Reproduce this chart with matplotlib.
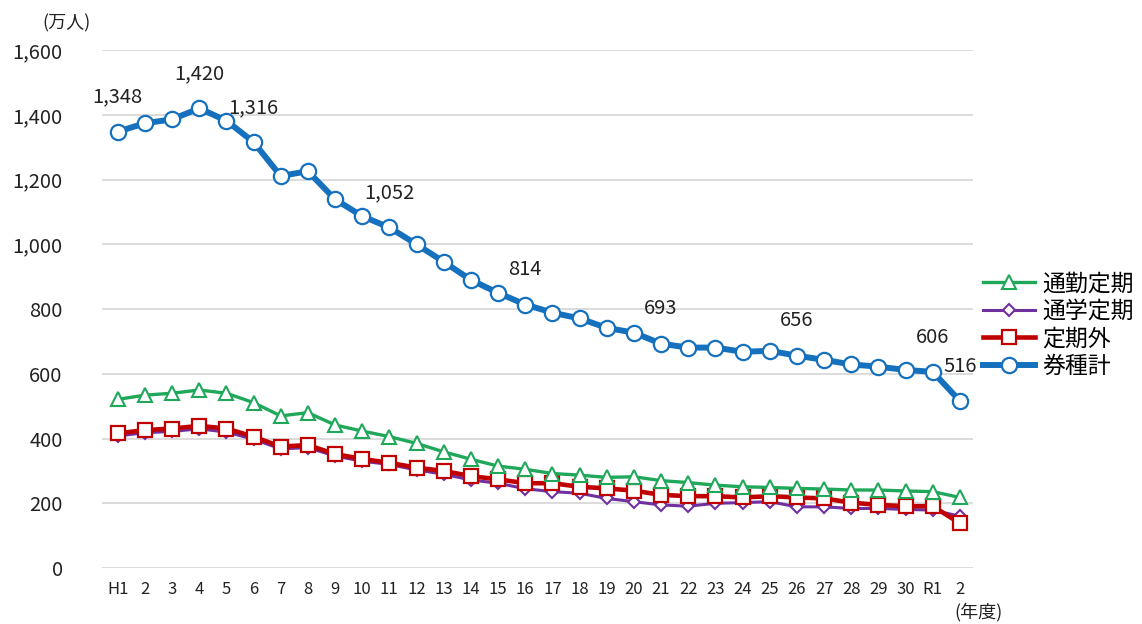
import matplotlib.pyplot as plt
from matplotlib.ticker import FuncFormatter

plt.rcParams['font.family'] = ['Noto Sans CJK JP', 'DejaVu Sans']

# 年度
years = ['H1'] + [str(i) for i in range(2, 31)] + ['R1', '2']

# 万人
commute = [521, 534, 540, 550, 540, 511, 470, 480, 442, 423, 406, 385, 359, 336, 315, 305,
           292, 287, 280, 282, 270, 264, 256, 251, 249, 246, 244, 241, 241, 238, 236, 218]
school = [408, 418, 422, 430, 420, 398, 368, 372, 346, 330, 320, 303, 290, 272, 262, 245,
          236, 231, 215, 205, 195, 191, 200, 202, 205, 189, 189, 184, 184, 181, 179, 160]
non_pass = [416, 426, 431, 439, 431, 406, 375, 380, 352, 337, 325, 310, 300, 284, 274, 262,
            262, 251, 246, 239, 226, 222, 222, 218, 222, 218, 215, 202, 195, 191, 191, 138]
total = [1348, 1374, 1386, 1420, 1382, 1316, 1211, 1226, 1139, 1087, 1052, 1000, 946, 890, 850, 814,
         789, 771, 742, 727, 693, 681, 681, 668, 671, 656, 643, 629, 622, 612, 606, 516]

# which points get a value label
label_idx = [0, 3, 5, 10, 15, 20, 25, 30, 31]

x = list(range(len(years)))
narrow = ['Liberation Sans Narrow', 'Noto Sans CJK JP', 'DejaVu Sans']

fig = plt.figure(figsize=(11.42, 6.24), dpi=100)
ax = fig.add_axes([0.089, 0.0897, 0.763, 0.830])

l_school, = ax.plot(x, school, color='#7030a0', lw=2.2, marker='D', ms=6.5,
                    mfc='white', mec='#7030a0', mew=1.5, zorder=3)
l_non, = ax.plot(x, non_pass, color='#c00000', lw=3.3, marker='s', ms=9.5,
                 mfc='white', mec='#c00000', mew=1.6, zorder=4)
l_comm, = ax.plot(x, commute, color='#1fa85a', lw=2.4, marker='^', ms=9.5,
                  mfc='white', mec='#1fa85a', mew=1.5, zorder=5)
l_total, = ax.plot(x, total, color='#1570be', lw=4.3, marker='o', ms=11,
                   mfc='white', mec='#1570be', mew=1.6, zorder=6)

for i in label_idx:
    s = format(total[i], ',')
    ax.annotate(s, (x[i], total[i]), xytext=(0, 25), textcoords='offset points',
                ha='center', va='center', fontsize=14.5, color='#222222', zorder=7)

ax.set_ylim(0, 1600)
ax.set_xlim(-0.59, len(years) - 1 + 0.48)
ax.set_yticks(range(0, 1601, 200))
ax.yaxis.set_major_formatter(FuncFormatter(lambda v, p: format(int(v), ',')))
ax.set_xticks(x)
ax.set_xticklabels(years, family=narrow)
ax.tick_params(axis='y', length=0, pad=28, labelsize=14.5, labelcolor='#222222')
ax.tick_params(axis='x', length=0, pad=9, labelsize=12, labelcolor='#222222')
ax.grid(axis='y', color='#d9d9d9', lw=1.3)
ax.set_axisbelow(True)
for sp in ax.spines.values():
    sp.set_visible(False)

fig.text(0.058, 0.963, '(万人)', ha='center', va='center', fontsize=13, color='#222222')
fig.text(0.857, 0.019, '(年度)', ha='center', va='center', fontsize=13, color='#222222')

fig.legend([l_comm, l_school, l_non, l_total], ['通勤定期', '通学定期', '定期外', '券種計'],
           loc='center left', bbox_to_anchor=(0.861, 0.479), frameon=False,
           fontsize=16.5, handlelength=2.27, handletextpad=0.3, labelspacing=0.2,
           borderaxespad=0, borderpad=0)

plt.savefig('out.png')
